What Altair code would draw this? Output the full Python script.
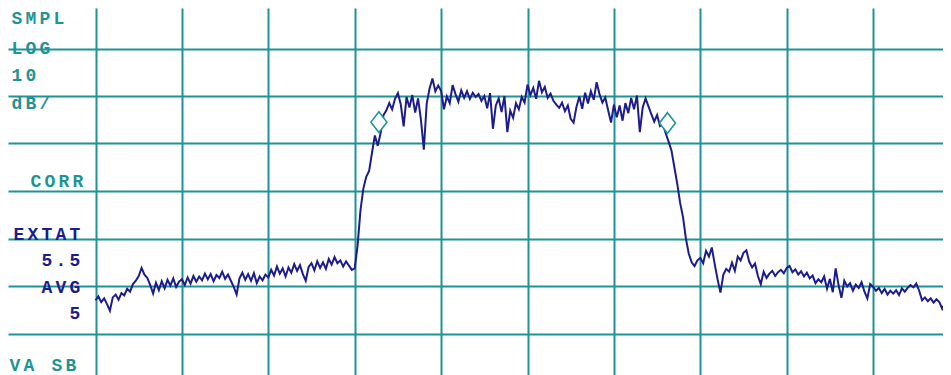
import altair as alt
import pandas as pd

# ---------------- data ----------------
# trace level in dB (reference level = top graticule line, 10 dB/div),
# sampled every 1/30 of a horizontal division, starting at the left graticule line
trace_db = [
    # div 0
    -63.0, -62.2, -63.4, -62.6, -63.8, -65.2, -62.4, -61.8, -62.9, -61.5,
    -62.0, -60.6, -61.2, -59.6, -58.9, -57.9, -56.2, -57.6, -58.3, -59.8,
    -61.6, -59.3, -60.9, -59.0, -60.5, -58.7, -59.9, -58.4, -60.2, -59.1,
    # div 1
    -58.6, -59.8, -58.2, -59.5, -57.9, -59.1, -58.0, -58.8, -57.4, -58.6,
    -57.5, -59.0, -57.7, -58.3, -57.0, -58.5, -57.6, -58.9, -60.2, -61.8,
    -58.4, -57.2, -58.7, -57.5, -58.9, -57.3, -59.4, -58.0, -58.8, -57.6,
    # div 2
    -58.2, -56.6, -57.8, -55.9, -57.4, -56.3, -58.0, -56.1, -57.2, -55.4,
    -56.8, -55.6, -57.5, -58.9, -56.0, -55.2, -56.7, -54.8, -56.2, -55.0,
    -56.4, -54.3, -55.5, -53.9, -55.2, -54.6, -55.9, -54.8, -55.7, -56.6,
    # div 3
    -56.3, -51.5, -44.1, -39.5, -37.0, -35.8, -32.0, -28.3, -30.5, -27.8,
    -24.0, -23.0, -21.5, -22.8, -20.6, -19.4, -21.8, -26.4, -20.2, -22.4,
    -19.8, -23.5, -20.5, -25.0, -31.3, -21.6, -18.4, -16.3, -19.0, -17.8,
    # div 4
    -18.9, -22.8, -20.1, -21.5, -17.7, -19.6, -21.2, -18.8, -20.4, -19.0,
    -20.6, -19.3, -20.2, -19.6, -21.0, -20.0, -22.6, -19.4, -26.9, -22.0,
    -20.5, -23.4, -20.0, -27.6, -23.1, -24.6, -21.5, -22.8, -20.2, -21.4,
    # div 5
    -17.6, -19.8, -18.3, -20.6, -16.8, -19.2, -18.1, -20.4, -19.5, -21.0,
    -21.8, -22.5, -21.4, -23.2, -22.0, -24.8, -25.6, -22.3, -20.1, -22.7,
    -19.3, -21.6, -19.0, -20.8, -17.1, -19.6, -21.4, -20.3, -23.0, -25.6,
    # div 6
    -21.8, -24.5, -22.0, -25.2, -21.5, -23.6, -20.4, -22.8, -19.9, -27.6,
    -22.4, -20.5, -22.2, -23.8, -25.4, -24.0, -26.3, -25.8, -27.9, -29.6,
    -31.5, -35.0, -38.5, -42.5, -45.5, -50.0, -53.2, -55.0, -55.8, -54.6,
    # div 7
    -54.1, -55.2, -52.6, -53.8, -51.9, -55.4, -58.6, -61.4, -57.6, -56.4,
    -57.0, -55.1, -56.8, -53.8, -54.6, -53.0, -52.5, -54.9, -56.1, -55.3,
    -57.9, -59.6, -57.0, -58.3, -57.4, -56.8, -57.9, -57.1, -56.6, -57.3,
    # div 8
    -56.2, -55.8, -57.1, -56.5, -57.6, -56.9, -58.0, -57.2, -58.4, -57.8,
    -59.4, -58.6, -59.2, -58.0, -60.6, -58.5, -61.3, -56.3, -59.8, -62.5,
    -58.9, -60.1, -59.4, -61.0, -59.7, -60.4, -59.2, -61.2, -62.6, -59.6,
    # div 9
    -60.2, -61.0, -60.4, -61.5, -60.6, -61.8, -61.0, -61.6, -60.9, -61.9,
    -60.5, -61.2, -60.4, -59.8, -60.3, -59.5, -61.0, -63.0, -62.4, -63.2,
    -62.6, -63.5, -62.8, -63.4, -64.8, -63.6, -63.2,
]
points_per_div = 30

marker_div = [3.28, 6.62]
marker_db = [-25.5, -25.7]

grid_x_div = [0, 1, 2, 3, 4, 5, 6, 7, 8, 9, 10]
grid_y_db = [0, -10, -20, -30, -40, -50, -60, -70]

labels = ["SMPL", "LOG", "10", "dB/", "CORR", "EXTAT", "5.5", "AVG", "5", "VA SB"]
label_kind = ["teal", "teal", "teal", "teal", "teal", "blue", "blue", "blue", "blue", "teal"]

# ---------------- styling / layout ----------------
TEAL = "#1f9494"
BLUE = "#1c1c8c"
W, H = 935, 367
X_DOMAIN = [(8 - 95.5) / 86.4, (8 + W - 95.5) / 86.4]
Y_DOMAIN = [-(8 + H - 1) / 4.75, -(8 - 1) / 4.75]

# label anchors (page pixels): left edge or right edge, vertical centre
label_anchor = [
    ("left", 10, 18.5), ("left", 10, 49), ("left", 10, 76), ("left", 10, 104),
    ("right", 85, 181.5), ("right", 82, 235), ("right", 82, 261),
    ("right", 82, 288), ("right", 82, 314), ("left", 8, 366),
]
PITCH = 14

trace = pd.DataFrame({
    "div": [i / points_per_div for i in range(len(trace_db))],
    "db": trace_db,
})
markers = pd.DataFrame({"div": marker_div, "db": marker_db})

rows = []
for lab, kind, (side, ex, cy) in zip(labels, label_kind, label_anchor):
    n = len(lab)
    left = ex if side == "left" else ex - n * PITCH
    for i, ch in enumerate(lab):
        if ch == " ":
            continue
        rows.append({"ch": ch, "kind": kind,
                     "px": left + PITCH * i + PITCH / 2 - 8, "py": cy - 8})
chars = pd.DataFrame(rows)

xs = alt.Scale(domain=X_DOMAIN, nice=False, zero=False)
ys = alt.Scale(domain=Y_DOMAIN, nice=False, zero=False)

x_axis = alt.Axis(values=grid_x_div, grid=True, gridColor=TEAL, gridWidth=2,
                  gridOpacity=1, labels=False, ticks=False, domain=False, title=None)
y_axis = alt.Axis(values=grid_y_db, grid=True, gridColor=TEAL, gridWidth=2,
                  gridOpacity=1, labels=False, ticks=False, domain=False, title=None)

line = alt.Chart(trace).mark_line(
    color=BLUE, strokeWidth=2, clip=True
).encode(
    x=alt.X("div:Q", scale=xs, axis=x_axis),
    y=alt.Y("db:Q", scale=ys, axis=y_axis),
)

mk = alt.Chart(markers).mark_point(
    shape="M0,-1.3L1,0L0,1.3L-1,0Z", size=256, filled=False,
    stroke=TEAL, strokeWidth=1.6, fill="white", fillOpacity=1, opacity=1,
).encode(
    x=alt.X("div:Q", scale=xs),
    y=alt.Y("db:Q", scale=ys),
)

txt = alt.Chart(chars).mark_text(
    font="Liberation Mono", fontSize=18, fontWeight="bold",
    align="center", baseline="middle",
).encode(
    x=alt.X("px:Q", scale=None),
    y=alt.Y("py:Q", scale=None),
    text="ch:N",
    color=alt.Color("kind:N", scale=alt.Scale(domain=["teal", "blue"], range=[TEAL, BLUE]),
                    legend=None),
)

chart = alt.layer(line, mk, txt).properties(
    width=W, height=H,
    autosize=alt.AutoSizeParams(type="none"),
    padding=0,
    background="white",
).configure_view(stroke=None)

chart.save("out.html", embed_options={"renderer": "svg", "actions": False})
